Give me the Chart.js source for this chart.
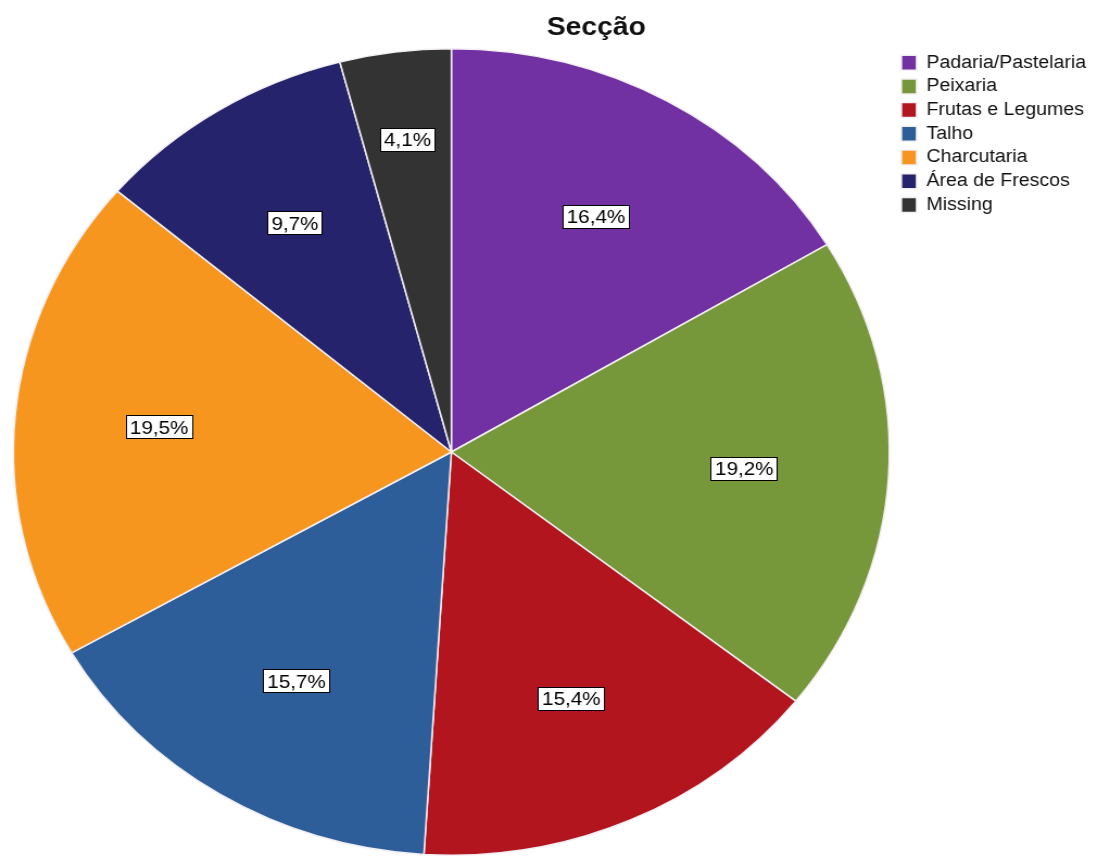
<!DOCTYPE html>
<html>
<head>
<meta charset="utf-8">
<title>Secção</title>
<script src="https://cdn.jsdelivr.net/npm/chart.js@4.4.1/dist/chart.umd.min.js"></script>
<style>
    html, body { margin: 0; padding: 0; background: #ffffff; overflow: hidden; }
    /* the source picture is stretched horizontally, so the whole canvas is too */
    #wrap { width: 1010px; height: 856px; transform: scaleX(1.0861); transform-origin: 0 0; }
</style>
</head>
<body>
<div id="wrap"><canvas id="chart" width="1010" height="856"></canvas></div>
<script>
const chartTitle = 'Secção';
const categories = ['Padaria/Pastelaria', 'Peixaria', 'Frutas e Legumes', 'Talho', 'Charcutaria', 'Área de Frescos', 'Missing'];
const percentages = [16.4, 19.2, 15.4, 15.7, 19.5, 9.7, 4.1];
const sliceColors = ['#7131a3', '#77983a', '#b3151f', '#2e5e99', '#f7961e', '#24236b', '#333333'];

const FONT = "'Liberation Sans', Arial, sans-serif";

const fmtPct = (v) => v.toFixed(1).replace('.', ',') + '%';

/* title drawn by hand so it can sit off-centre like the original */
const titlePlugin = {
    id: 'sectionTitle',
    afterDraw(chart) {
        const ctx = chart.ctx;
        ctx.save();
        ctx.font = 'bold 26px ' + FONT;
        ctx.fillStyle = '#111111';
        ctx.textAlign = 'center';
        ctx.textBaseline = 'middle';
        ctx.fillText(chartTitle, 549, 28);
        ctx.restore();
    },
};

/* boxed percentage labels inside the slices; thin slices get pushed outwards */
const sliceLabels = {
    id: 'sliceLabels',
    afterDatasetsDraw(chart) {
        const ctx = chart.ctx;
        const meta = chart.getDatasetMeta(0);
        ctx.save();
        ctx.font = '19px ' + FONT;
        ctx.textAlign = 'center';
        ctx.textBaseline = 'middle';
        meta.data.forEach((arc, i) => {
            const p = arc.getProps(['x', 'y', 'startAngle', 'endAngle', 'outerRadius'], true);
            const mid = (p.startAngle + p.endAngle) / 2;
            const r = p.outerRadius * (percentages[i] < 5 ? 0.78 : 0.67);
            const x = p.x + Math.cos(mid) * r;
            const y = p.y + Math.sin(mid) * r;
            const text = fmtPct(percentages[i]);
            const w = Math.round(ctx.measureText(text).width + 8);
            const h = 24;
            const bx = Math.round(x - w / 2);
            const by = Math.round(y - h / 2);
            ctx.fillStyle = '#ffffff';
            ctx.fillRect(bx, by, w, h);
            ctx.strokeStyle = '#000000';
            ctx.lineWidth = 1;
            ctx.strokeRect(bx + 0.5, by + 0.5, w - 1, h - 1);
            ctx.fillStyle = '#000000';
            ctx.fillText(text, x, y + 1);
        });
        ctx.restore();
    },
};

new Chart(document.getElementById('chart'), {
    type: 'pie',
    data: {
        labels: categories,
        datasets: [{
            data: percentages,
            backgroundColor: sliceColors,
            borderColor: '#f3eef3',
            borderWidth: 1.5,
        }],
    },
    options: {
        responsive: false,
        animation: false,
        events: [],
        layout: { padding: { top: 48, left: 7, right: 0, bottom: 0 } },
        plugins: {
            title: { display: false },
            tooltip: { enabled: false },
            legend: {
                position: 'right',
                align: 'start',
                labels: {
                    color: '#111111',
                    font: { family: FONT, size: 18 },
                    boxWidth: 14,
                    boxHeight: 15,
                    padding: 5.7,
                },
            },
        },
    },
    plugins: [titlePlugin, sliceLabels],
});
</script>
</body>
</html>
